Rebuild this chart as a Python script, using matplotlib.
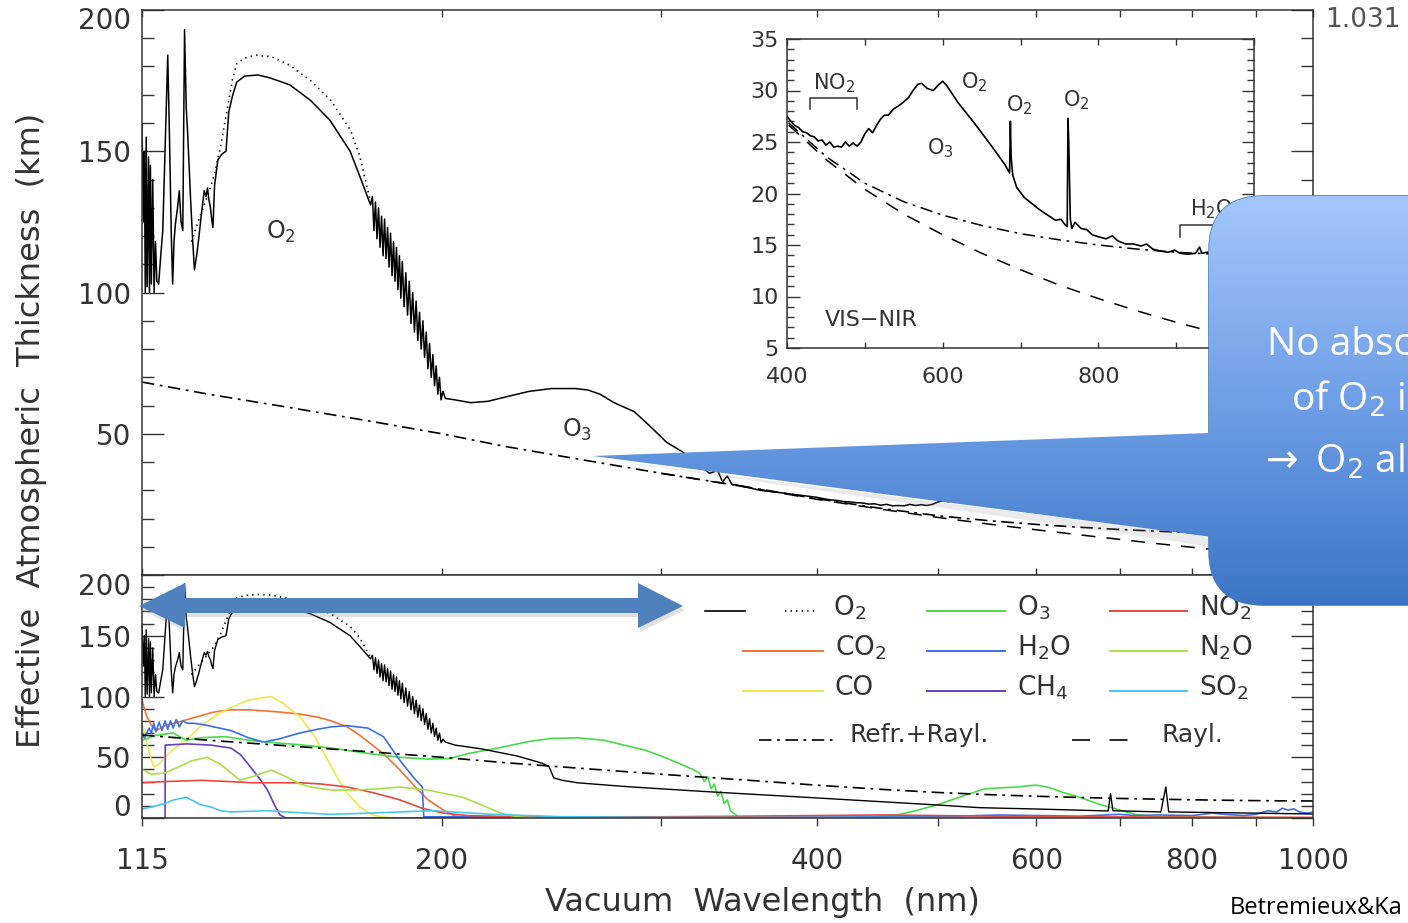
import numpy as np
import matplotlib
matplotlib.use('Agg')
import matplotlib.pyplot as plt
from matplotlib.patches import FancyBboxPatch, Polygon
from matplotlib.colors import LinearSegmentedColormap
from matplotlib.ticker import MultipleLocator, NullFormatter

plt.rcParams['font.family'] = 'DejaVu Sans'
plt.rcParams['mathtext.fontset'] = 'dejavusans'
plt.rcParams['lines.scale_dashes'] = False

W, H = 1408, 923
TXT = '#333333'

# ---- total effective thickness (km) vs wavelength (nm), top panel + inset
total_wl = [115.0, 115.3, 115.5, 115.7, 115.9, 116.1, 116.4, 116.6, 116.8, 117.0, 117.3, 117.6,
            117.9, 118.2, 118.6, 119.0, 119.5, 120.0, 120.6, 121.0, 121.4, 121.7, 122.0, 122.3,
            122.8, 123.2, 123.6, 124.0, 124.4, 124.8, 125.1, 125.8, 126.3, 126.7, 127.2, 127.7,
            128.2, 128.6, 129.0, 129.4, 129.8, 130.1, 130.5, 130.8, 131.1, 131.5, 132.3, 133.3,
            134.3, 135.0, 136.0, 137.0, 139.0, 142.4, 145.6, 151.1, 157.0, 162.7, 168.9, 172.0,
            175.4, 176.0, 176.5, 177.0, 177.5, 178.0, 178.5, 179.0, 179.5, 180.0, 180.5, 181.0,
            181.5, 182.0, 182.5, 183.0, 183.5, 184.0, 184.5, 185.0, 185.5, 186.0, 186.6, 187.2,
            187.8, 188.4, 189.0, 189.6, 190.2, 190.8, 191.4, 192.0, 192.6, 193.2, 193.8, 194.4,
            195.0, 195.6, 196.2, 196.8, 197.4, 198.0, 198.6, 199.2, 199.8, 200.5, 201.4,
            205, 211, 218, 225, 235, 245, 256, 262, 268, 275, 285.5, 295, 303, 312, 320, 328,
            333, 336, 339, 342, 344, 352, 360, 376,
            400, 405, 410, 415, 420, 425, 430, 435, 440, 445, 450, 455, 460, 465, 470, 475, 480,
            485, 490, 495, 500, 505, 510, 515, 520, 525, 530, 537, 545, 550, 556, 562, 568, 573,
            580, 588, 594, 600, 605, 620, 640, 660, 680, 686, 687, 688, 690, 695, 705, 715, 725,
            735, 745, 752, 758, 760, 761, 762, 764, 766, 770, 778, 785, 792, 800, 810, 818, 825,
            835, 845, 855, 862, 870, 880, 890, 898, 905, 915, 925, 930, 933, 940, 950, 960, 975, 1000]
total_km = [160, 125, 150, 100, 155, 102, 148, 100, 145, 103, 140, 100,
            118, 104, 103, 112, 122, 150, 184, 154, 120, 103, 118, 124,
            130, 136, 125, 122, 193, 165, 157, 133, 118, 108, 113, 119,
            126, 131, 136, 134, 137, 133, 130, 126, 123, 138, 147, 149,
            150, 164, 170, 174.5, 176.6, 177, 176, 173.5, 168, 161, 150, 141,
            131, 134, 122, 132, 119, 130, 116, 127, 113, 126, 112, 123,
            109, 121, 106, 118, 104, 116, 101, 113, 98, 111, 95, 107,
            92, 104, 89, 100, 86, 97, 83, 93, 80, 90, 77, 86,
            73, 82, 70, 78, 67, 74, 64, 70, 62, 65, 62.5,
            62, 61, 61.5, 63, 65, 66, 66, 65.5, 64, 61, 57.8, 52, 47, 43.6, 40, 36,
            37, 33, 35, 32, 32, 31, 30, 29,
            27.5, 27.0, 26.6, 26.4, 26.0, 25.9, 25.6, 25.5, 25.1, 25.2, 24.7, 25.0, 24.5, 24.6, 24.5, 25.0, 24.6,
            24.9, 24.6, 25.0, 25.8, 26.3, 25.9, 26.6, 27.2, 27.6, 27.6, 28.2, 28.6, 28.9, 29.3, 30.0, 30.6, 30.7,
            30.2, 30.0, 30.5, 30.9, 30.5, 28.8, 26.9, 24.9, 22.8, 22.0, 27.0, 23.5, 21.8, 20.6, 19.6, 19.0, 18.4,
            17.9, 17.4, 17.5, 16.9, 16.8, 27.3, 25.0, 17.5, 16.6, 17.2, 16.6, 16.5, 16.0, 15.8, 15.6, 15.9, 15.4,
            15.1, 15.1, 14.9, 15.1, 14.6, 14.4, 14.3, 14.5, 14.2, 14.1, 14.2, 14.8, 14.2, 14.3, 14.0, 14.1, 14.0, 14.0]

# O2 dotted curve
o2dot_wl = [126, 128, 130, 131.5, 133, 135, 136, 137, 139, 142, 146, 151, 157, 163, 169, 172, 175.4]
o2dot_km = [118, 127, 135, 142, 152, 168, 176, 181, 183, 184, 183.5, 180.5, 175, 168, 157.5, 148, 132]

# O2 alone beyond 201 nm (bottom panel)
o2_wl = [205, 215, 230, 241, 244, 246, 250, 257, 280, 300, 330, 400, 500, 540, 600, 685, 688,
         691, 755, 762, 766, 1000]
o2_km = [60, 57, 51, 45, 42, 33, 31, 29, 26, 24, 21.4, 16.5, 10.7, 8.5, 7.4, 5.8, 20,
         6, 5, 25.5, 5, 3.3]

# Refraction + Rayleigh, Rayleigh only
refr_wl = [115, 130, 150, 175, 200, 225, 250, 300, 350, 400, 450, 500, 550, 600, 650, 700,
           750, 800, 850, 900, 950, 1000]
refr_km = [68.3, 64, 59.5, 54.5, 50, 45.5, 42, 36, 31.3, 27.0, 23.6, 21.0, 19.2, 17.9, 16.9, 16.1,
           15.5, 15.0, 14.6, 14.3, 14.1, 14.0]
rayl_wl = [300, 350, 400, 450, 500, 550, 600, 650, 700, 750, 800, 850, 900, 950, 1000]
rayl_km = [36, 31.2, 26.8, 23.3, 20.4, 18.0, 16.0, 14.2, 12.6, 11.1, 9.8, 8.6, 7.5, 6.5, 5.6]

# individual gases (bottom panel)
co2_wl = [115, 115.5, 116, 116.5, 117, 117.5, 118, 119, 120, 121, 122, 123, 124, 125, 127, 129,
          131, 133, 135.5, 140, 145, 149, 154, 159, 163, 168, 172, 176, 179.6, 185, 190.5, 195,
          200.6, 205, 210, 215, 1000]
co2_km = [97, 90, 84, 80, 76, 74, 72, 74, 76, 77, 78, 79, 80, 81, 83, 85,
          87, 88, 89, 89, 88, 87, 85.5, 83, 80, 75, 68, 60, 53, 40, 25.5, 15,
          6.6, 1.5, 0.5, 0, 0]
co_wl = [115, 116, 117, 117.5, 118.5, 120, 122, 124.8, 128, 132, 135.5, 140, 146, 149, 154, 158,
         162, 165, 168, 172, 176, 180, 185, 1000]
co_km = [78, 62, 48, 42, 44, 50, 57, 64, 75, 85, 91, 97, 100, 95, 83, 68,
         48, 33, 20.5, 9, 2.5, 0.5, 0, 0]
h2o_wl = [115, 115.5, 116, 116.5, 117, 117.5, 118, 118.7, 119.3, 120, 120.6, 121.2, 121.8, 122.5,
          123.2, 124, 125, 126.5, 128.6, 132, 135.5, 140, 144, 148, 154, 159, 163, 168, 174.5,
          179.6, 185, 190, 193, 193.5, 200, 300, 500, 560, 600, 650, 700, 720, 750, 800, 830, 850,
          880, 900, 920, 935, 945, 955, 965, 975, 990, 1000]
h2o_km = [68, 66, 70, 74, 70, 78, 71, 79, 72, 80, 73, 80, 74, 81,
          75, 80, 78, 78, 77, 74.5, 72, 66, 62.5, 65, 70, 73, 75, 76, 74,
          67, 48, 33, 25.5, 1, 1, 0.5, 1, 2.5, 2, 1.5, 3, 2, 2.5, 2, 4, 3,
          2, 3, 6, 5, 8, 6.5, 7.5, 5, 4, 5]
o3_wl = [115, 118, 121.8, 124.8, 128, 134, 140, 145, 155, 163, 175, 185, 195, 203, 210, 223, 235,
         245, 257, 270, 280, 291, 300, 310, 318, 322, 325, 327, 329, 331, 333, 335, 337, 339, 341,
         343, 346, 360, 440, 466, 480, 500, 520, 545, 565, 580, 590, 600, 615, 630, 650, 675, 700,
         720, 750, 800, 1000]
o3_km = [64, 68, 70, 64, 66, 67, 64, 62.5, 60, 57.6, 53, 50, 48.5, 49, 53, 58, 63,
         65.5, 66, 64, 60, 56, 51, 45, 40, 37, 30, 34, 24, 28, 18, 22, 12, 15, 6,
         4, 1, 0, 0.5, 3, 6, 11, 17, 24, 25, 25.5, 26.5, 27, 25, 21, 17, 11, 6.6,
         3, 1, 0.5, 0]
n2o_wl = [115, 117, 120, 123, 126, 129.7, 133, 137.8, 142, 146, 150, 154, 157, 163, 170, 178, 185,
          195, 208, 215, 223, 230, 240, 1000]
n2o_km = [40, 36, 37, 42, 47, 50, 44, 31, 35, 39.5, 34, 28, 25.5, 23, 23, 24, 25.5,
          23, 17, 11, 4, 1, 0, 0]
no2_wl = [115, 120, 128.6, 135, 141, 154, 160, 168, 176, 185, 193, 200.6, 210, 230, 300, 350, 400,
          450, 500, 550, 600, 1000]
no2_km = [29, 30, 31, 30, 29, 29, 28, 25.5, 21, 15, 8, 4, 2, 1, 1, 1.5, 2,
          2.5, 2, 1.5, 1, 0.5]
ch4_wl = [115, 120, 120.05, 125, 130.6, 135.5, 138, 140.5, 143, 145, 147, 148.4, 150, 1000]
ch4_km = [0, 0, 60, 61, 60, 57.6, 52, 42, 32, 23, 10, 2.5, 0, 0]
so2_wl = [115, 117, 120, 122, 124.8, 126.5, 128, 130.6, 133, 135.5, 140, 145, 150, 163, 175, 185,
          197, 200, 220, 250, 300, 1000]
so2_km = [7.4, 9, 12, 15, 17, 14, 11, 9, 6, 5, 5.5, 6, 5, 3, 4, 5,
          6, 5.5, 3, 1, 0.5, 0]

gases = [
    ('CO$_2$', co2_wl, co2_km, '#f27333'),
    ('CO', co_wl, co_km, '#f2e64a'),
    ('O$_3$', o3_wl, o3_km, '#45dc45'),
    ('H$_2$O', h2o_wl, h2o_km, '#3c6fe6'),
    ('CH$_4$', ch4_wl, ch4_km, '#6b3cc2'),
    ('NO$_2$', no2_wl, no2_km, '#e8473d'),
    ('N$_2$O', n2o_wl, n2o_km, '#a9e046'),
    ('SO$_2$', so2_wl, so2_km, '#45c8f0'),
]

x_major = [115, 200, 400, 600, 800, 1000]
x_minor = [300, 500, 700, 900]

DASHDOT = (0, (9, 4, 2, 4))
DASHED = (0, (10, 8))
DOTTED = (0, (1, 3))


def px_axes(left, top, right, bottom):
    return [left / W, 1 - bottom / H, (right - left) / W, (bottom - top) / H]


def style_axes(ax):
    for s in ax.spines.values():
        s.set_linewidth(1.1)
        s.set_color(TXT)


def px_text(x, y, s, **kw):
    # text placed in figure pixels measured from the top-left corner
    return fig.text(x / W, 1 - y / H, s, **kw)


fig = plt.figure(figsize=(W / 100, H / 100), dpi=100)
fig.patch.set_facecolor('white')

# ---------------- top panel
ax1 = fig.add_axes(px_axes(142, 10, 1313, 575))
ax1.plot(total_wl, total_km, color='black', lw=1.1)
ax1.plot(o2dot_wl, o2dot_km, color='black', lw=1.2, linestyle=DOTTED)
ax1.plot(refr_wl, refr_km, color='black', lw=1.2, linestyle=DASHDOT)
ax1.plot(rayl_wl, rayl_km, color='black', lw=1.1, linestyle=DASHED)
ax1.set_xscale('log')
ax1.set_xlim(115, 1000)
ax1.set_ylim(0, 200)
ax1.set_xticks(x_major)
ax1.set_xticks(x_minor, minor=True)
ax1.xaxis.set_major_formatter(NullFormatter())
ax1.xaxis.set_minor_formatter(NullFormatter())
ax1.set_yticks([50, 100, 150, 200], labels=['50', '100', '150', ''])
ax1.yaxis.set_minor_locator(MultipleLocator(10))
ax1.tick_params(axis='x', which='both', direction='in', top=True, bottom=True, length=5,
                width=1, color=TXT)
ax1.tick_params(axis='y', which='major', direction='in', left=True, right=True, length=16,
                width=1, color=TXT, labelsize=20, labelcolor=TXT, pad=8)
ax1.tick_params(axis='y', which='minor', direction='in', left=True, right=True, length=8.5,
                width=1, color=TXT)
style_axes(ax1)
ax1.text(148.7, 121.4, 'O$_2$', fontsize=17, color=TXT, ha='center', va='center')
ax1.text(256.8, 51.3, 'O$_3$', fontsize=17, color=TXT, ha='center', va='center')

# ---------------- bottom panel
ax2 = fig.add_axes(px_axes(142, 575, 1313, 818))
for name, wl, km, col in gases:
    ax2.plot(wl, km, color=col, lw=1.2)
head_wl = [w for w in total_wl if w <= 201.4]
head_km = total_km[:len(head_wl)]
ax2.plot(head_wl + o2_wl, head_km + o2_km, color='black', lw=1.0)
ax2.plot(o2dot_wl, o2dot_km, color='black', lw=1.2, linestyle=DOTTED)
ax2.plot(refr_wl, refr_km, color='black', lw=1.2, linestyle=DASHDOT)
ax2.set_xscale('log')
ax2.set_xlim(115, 1000)
ax2.set_ylim(0, 200)
ax2.set_xticks(x_major, labels=[str(v) for v in x_major])
ax2.set_xticks(x_minor, minor=True)
ax2.xaxis.set_minor_formatter(NullFormatter())
ax2.set_yticks([0, 50, 100, 150, 200], labels=['', '50', '100', '150', ''])
ax2.yaxis.set_minor_locator(MultipleLocator(10))
ax2.tick_params(axis='x', which='both', direction='out', top=False, bottom=True, length=6,
                width=1, color=TXT, labelsize=20, labelcolor=TXT, pad=15)
ax2.tick_params(axis='y', which='major', direction='in', left=True, right=True, length=16,
                width=1, color=TXT, labelsize=20, labelcolor=TXT, pad=8)
ax2.tick_params(axis='y', which='minor', direction='in', left=True, right=True, length=8.5,
                width=1, color=TXT)
style_axes(ax2)

# end labels sit a little inside the panels, as in the original
px_text(131, 21, '200', ha='right', va='center', fontsize=20, color=TXT)
px_text(131, 587, '200', ha='right', va='center', fontsize=20, color=TXT)
px_text(131, 808, '0', ha='right', va='center', fontsize=20, color=TXT)

# ---------------- inset
ax3 = fig.add_axes(px_axes(787, 39, 1254, 348))
ax3.set_facecolor('white')
ax3.plot(total_wl, total_km, color='black', lw=1.2)
ax3.plot(refr_wl, refr_km, color='black', lw=1.1, linestyle=DASHDOT)
ax3.plot(rayl_wl, rayl_km, color='black', lw=1.1, linestyle=DASHED)
ax3.set_xlim(400, 1000)
ax3.set_ylim(5, 35)
ax3.set_xticks([400, 600, 800, 1000])
ax3.set_xticks([500, 700, 900], minor=True)
ax3.yaxis.set_major_locator(MultipleLocator(5))
ax3.yaxis.set_minor_locator(MultipleLocator(1))
ax3.tick_params(axis='x', which='both', direction='in', top=True, bottom=True, length=4.5,
                width=1, color=TXT, labelsize=16, labelcolor=TXT, pad=14)
ax3.tick_params(axis='y', which='major', direction='in', left=True, right=True, length=9,
                width=1, color=TXT, labelsize=16, labelcolor=TXT, pad=6)
ax3.tick_params(axis='y', which='minor', direction='in', left=True, right=True, length=5,
                width=1, color=TXT)
style_axes(ax3)
ax3.plot([429.6, 429.6, 490, 490], [28.2, 29.3, 29.3, 28.2], color=TXT, lw=1.1)
ax3.text(461, 29.6, 'NO$_2$', fontsize=15, color=TXT, ha='center', va='bottom')
ax3.text(641, 30.8, 'O$_2$', fontsize=15, color=TXT, ha='center', va='center')
ax3.text(699, 28.6, 'O$_2$', fontsize=15, color=TXT, ha='center', va='center')
ax3.text(771, 29.1, 'O$_2$', fontsize=15, color=TXT, ha='center', va='center')
ax3.text(597, 24.4, 'O$_3$', fontsize=15, color=TXT, ha='center', va='center')
ax3.plot([905, 905, 1000], [15.8, 16.9, 16.9], color=TXT, lw=1.1)
ax3.text(946, 17.3, 'H$_2$O', fontsize=15, color=TXT, ha='center', va='bottom')
ax3.text(449, 7.7, 'VIS\u2212NIR', fontsize=16, color=TXT, ha='left', va='center')

# ---------------- axis titles and side texts
px_text(32, 430, 'Effective  Atmospheric  Thickness  (km)', rotation=90,
        ha='center', va='center', fontsize=23, color=TXT)
px_text(762, 903, 'Vacuum  Wavelength  (nm)', ha='center', va='center',
        fontsize=23, color=TXT)
px_text(1325, 20, '1.031', ha='left', va='center', fontsize=19, color='#555555')
px_text(1230, 908, 'Betremieux&Ka', ha='left', va='center', fontsize=17,
        color='black', family=['Open Sans', 'DejaVu Sans'])

# ---------------- overlay in pixel coordinates (legend, arrow, callout)
ov = fig.add_axes([0, 0, 1, 1], zorder=10)
ov.axis('off')

# legend of the bottom panel
ov.plot([705, 745], [611, 611], color='black', lw=1.2)
ov.plot([785, 818], [611, 611], color='black', lw=1.2, linestyle=DOTTED)
ov.text(833, 615, 'O$_2$', fontsize=19, color=TXT, va='baseline')
col_x = [(743, 823, 835), (927, 1005, 1017), (1110, 1187, 1199)]
leg_rows = [611, 651, 691]
order = [[None, 'O$_3$', 'NO$_2$'], ['CO$_2$', 'H$_2$O', 'N$_2$O'], ['CO', 'CH$_4$', 'SO$_2$']]
colors = {g[0]: g[3] for g in gases}
for r, row in enumerate(order):
    for c, name in enumerate(row):
        if name is None:
            continue
        x0, x1, xt = col_x[c]
        ov.plot([x0, x1], [leg_rows[r]] * 2, color=colors[name], lw=1.4)
        ov.text(xt, leg_rows[r] + 4, name, fontsize=19, color=TXT, va='baseline')
ov.plot([759, 837], [740, 740], color='black', lw=1.2, linestyle=DASHDOT)
ov.text(850, 742, 'Refr.+Rayl.', fontsize=18, color=TXT, va='baseline')
ov.plot([1072, 1129], [740, 740], color='black', lw=1.2, linestyle=(0, (13, 14)))
ov.text(1162, 742, 'Rayl.', fontsize=18, color=TXT, va='baseline')

# double arrow
arrow_pts = [(139, 606), (185, 583), (185, 598), (638, 598), (638, 583), (683, 606),
             (638, 628), (638, 613), (185, 613), (185, 628)]
ov.add_patch(Polygon([(x + 2, y + 4) for x, y in arrow_pts], closed=True,
                     facecolor='#888888', alpha=0.25, edgecolor='none', zorder=3))
ov.add_patch(Polygon(arrow_pts, closed=True, facecolor='#4f81bd', edgecolor='none', zorder=4))

# callout bubble with gradient
cmap = LinearSegmentedColormap.from_list('bub', ['#a5c8fb', '#6f9fe7', '#3a75c3'])
grad = np.linspace(0, 1, 256).reshape(-1, 1)
wedge_pts = [(593, 456), (1235, 432), (1235, 540)]
ov.add_patch(Polygon([(593, 458), (1235, 540), (1235, 550)], closed=True,
                     facecolor='#999999', alpha=0.2, edgecolor='none', zorder=5))
box = FancyBboxPatch((1209, 196), 400, 409, boxstyle='round,pad=0,rounding_size=55',
                     facecolor='none', edgecolor='#4a7ebb', lw=1.2, zorder=6)
ov.add_patch(box)
im1 = ov.imshow(grad, cmap=cmap, extent=(580, 1620, 610, 190), origin='upper',
                aspect='auto', zorder=7)
im1.set_clip_path(box)
wedge = Polygon(wedge_pts, closed=True, facecolor='none', edgecolor='none', zorder=7)
ov.add_patch(wedge)
im2 = ov.imshow(grad, cmap=cmap, extent=(580, 1620, 610, 190), origin='upper',
                aspect='auto', zorder=8)
im2.set_clip_path(wedge)

bfont = ['Open Sans', 'DejaVu Sans']
ov.text(1267, 345, 'No abso', fontsize=28, color='white', family=bfont, va='center', zorder=9)
ov.text(1291, 400, 'of O$_2$ i', fontsize=28, color='white', family=bfont, va='center', zorder=9)
ov.text(1258, 462, r'$\rightarrow$ O$_2$ al', fontsize=28, color='white', family=bfont,
        va='center', zorder=9)

ov.set_xlim(0, W)
ov.set_ylim(H, 0)

fig.savefig('out.png', dpi=100, facecolor='white')
